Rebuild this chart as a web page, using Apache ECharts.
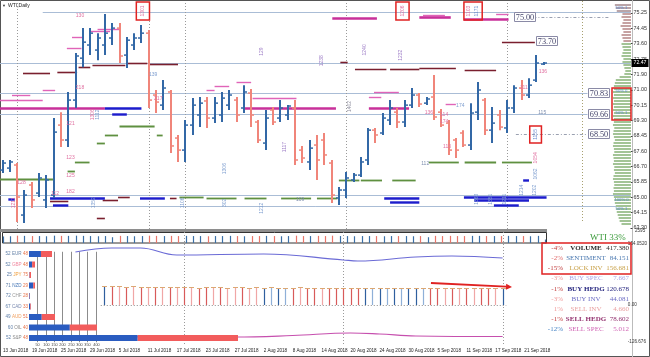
<!DOCTYPE html>
<html><head><meta charset="utf-8"><title>WTI Daily</title>
<script src="https://cdn.jsdelivr.net/npm/echarts@6/dist/echarts.min.js"></script>
<style>html,body{margin:0;padding:0;background:#fff;}#c{width:650px;height:357px;}</style>
</head><body><div id="c"></div>
<script>
// ---------------- DATA ----------------
const dates = ['13 Jun 2018','14 Jun 2018','15 Jun 2018','18 Jun 2018','19 Jun 2018','20 Jun 2018','21 Jun 2018','22 Jun 2018','25 Jun 2018','26 Jun 2018','27 Jun 2018','28 Jun 2018','29 Jun 2018',
'2 Jul 2018','3 Jul 2018','4 Jul 2018','5 Jul 2018','6 Jul 2018','9 Jul 2018','10 Jul 2018','11 Jul 2018','12 Jul 2018','13 Jul 2018','16 Jul 2018','17 Jul 2018','18 Jul 2018','19 Jul 2018','20 Jul 2018','23 Jul 2018','24 Jul 2018','25 Jul 2018','26 Jul 2018','27 Jul 2018','30 Jul 2018','31 Jul 2018',
'1 Aug 2018','2 Aug 2018','3 Aug 2018','6 Aug 2018','7 Aug 2018','8 Aug 2018','9 Aug 2018','10 Aug 2018','13 Aug 2018','14 Aug 2018','15 Aug 2018','16 Aug 2018','17 Aug 2018','20 Aug 2018','21 Aug 2018','22 Aug 2018','23 Aug 2018','24 Aug 2018','27 Aug 2018','28 Aug 2018','29 Aug 2018','30 Aug 2018','31 Aug 2018',
'3 Sep 2018','4 Sep 2018','5 Sep 2018','6 Sep 2018','7 Sep 2018','10 Sep 2018','11 Sep 2018','12 Sep 2018','13 Sep 2018','14 Sep 2018','17 Sep 2018','18 Sep 2018','19 Sep 2018','20 Sep 2018','21 Sep 2018','24 Sep 2018','25 Sep 2018'];
const dateTickIdx = [0,4,8,12,16,20,24,28,32,36,40,44,48,52,56,60,64,68,72];

const opens  = [66.52,66.63,66.80,64.02,65.69,65.24,64.86,65.13,69.02,68.19,70.41,72.74,73.47,73.19,73.47,73.86,74.41,72.91,73.47,73.86,74.13,70.69,70.13,70.86,68.30,67.63,69.02,69.58,70.36,69.41,69.58,70.13,70.41,69.97,70.80,69.19,68.02,69.86,69.41,69.58,69.97,67.63,66.97,67.91,68.19,66.91,64.97,65.41,65.97,66.24,67.08,68.74,68.58,69.30,69.74,69.19,70.13,70.69,70.24,70.58,69.74,69.13,68.19,68.58,67.91,69.74,70.41,68.74,69.58,68.86,69.97,71.08,70.69,71.52,72.41];
const highs  = [67.08,67.08,66.91,65.41,65.86,66.36,66.24,69.41,69.74,70.86,73.02,74.41,74.41,74.13,75.19,74.69,74.69,73.91,74.13,74.58,74.30,70.97,71.52,70.97,68.47,69.30,70.52,70.58,70.58,70.58,70.86,70.97,70.58,71.24,71.02,69.30,69.86,70.02,70.41,70.13,70.41,67.86,68.19,68.47,68.58,67.08,65.58,66.41,66.36,67.24,68.86,68.86,69.69,70.41,69.97,70.41,71.08,70.80,70.58,71.80,69.91,69.30,68.30,68.74,70.24,71.41,70.52,70.02,69.86,70.41,71.24,71.52,71.63,72.91,72.52];
const lows   = [66.36,66.41,63.63,63.58,64.41,65.02,64.41,64.97,67.80,67.80,69.97,72.24,72.91,72.63,72.91,73.47,72.47,72.19,73.19,73.58,69.97,69.69,69.86,67.47,66.97,66.97,68.47,68.91,68.86,69.13,69.19,69.86,69.19,69.69,68.91,68.02,67.63,69.02,69.19,69.30,66.80,66.91,66.52,65.97,66.80,64.69,64.58,64.97,65.86,66.13,66.80,68.02,68.47,69.02,68.86,68.91,69.97,70.02,70.13,69.30,68.91,67.36,67.19,67.80,67.63,69.30,68.47,68.02,68.74,68.58,69.69,70.41,70.52,71.41,72.36];
const closes = [66.91,66.97,65.02,65.13,64.86,66.08,65.97,68.63,68.19,70.41,72.86,73.63,74.13,73.86,74.13,74.41,72.86,73.74,73.86,74.13,70.41,70.30,71.08,67.86,67.63,69.02,70.13,70.24,69.41,70.24,70.52,70.69,69.58,70.86,69.58,68.19,69.41,69.19,69.97,70.08,67.08,67.19,67.74,67.08,67.36,65.13,65.41,66.08,66.24,66.97,68.74,68.47,69.41,69.97,69.19,70.13,70.69,70.19,70.47,69.47,69.02,67.63,67.63,67.91,69.69,70.97,68.74,69.13,68.91,69.97,71.08,70.69,71.24,72.47,72.47];

const priceTickLabels = ['63.30','64.15','65.00','65.85','66.70','67.60','68.45','69.30','70.15','71.00','71.90','72.75','73.60','74.45','75.25'];
const bidPrice = 72.47;

// horizontal indicator levels: [fromBar, toBar, price]
const levelLines = [[5.5,85.9,75.30],[-0.4,85.9,72.47],[-0.4,80.0,70.83],[-0.4,80.0,69.66],[-0.4,85.9,65.12],[-0.4,85.9,64.50]];
const dottedLevels = [[70.2,80.0,68.50],[72.6,83.0,75.00]];
const levelTags = [[69.9,75.00,'75.00'],[72.9,73.70,'73.70'],[80.0,70.83,'70.83'],[80.0,69.66,'69.66'],[80.0,68.50,'68.50']];
const darkRedSegs = [[2.8,6.5,71.91],[7.5,10.2,71.97],[10.4,12.0,72.24],[12.3,16.8,72.36],[17.0,19.8,72.47],[20.0,24.0,72.41],[46.2,47.2,72.55],[48.2,52.5,72.13],[53.0,57.0,72.13],[57.0,62.0,72.19],[63.2,67.5,72.08],[68.3,72.8,73.62],
  [13.7,15.8,64.86],[15.8,17.4,65.02],[22.9,23.8,64.97],[6.5,9.0,64.80],[12.9,14.0,63.86]];
const magentaSegs = [[-0.4,14.0,69.97],[33.1,45.6,69.97],[50.1,55.6,69.97],[45.1,51.2,74.97],[57.0,61.3,75.03],[63.1,69.2,74.92]];
const pinkSegs = [[8.8,10.8,73.30],[9.5,11.0,73.91],[11.9,14.7,74.25],[13.0,16.0,74.36],[5.5,7.2,70.97],[1.3,3.8,70.69],[-0.4,5.5,70.41],[32.0,34.0,71.41],[29.0,31.0,71.19],[27.9,29.0,70.97],[34.2,40.2,70.52],[50.8,54.2,70.86],[50.1,51.8,70.58],[60.6,62.0,70.19],[67.5,69.2,75.19],[57.5,60.5,75.12]];
const greenSegs = [[-0.4,6.9,66.02],[8.9,9.9,66.47],[9.9,11.9,66.97],[12.9,14.0,68.02],[14.0,15.8,68.47],[16.0,20.8,68.97],[21.1,21.9,68.47],[24.2,27.5,65.02],[27.9,32.0,64.97],[33.1,36.1,64.97],[38.1,42.2,64.97],[43.0,45.8,64.97],[46.0,48.8,65.97],[49.0,51.9,65.97],[53.3,56.5,65.97],[58.3,62.4,66.97],[63.2,67.5,66.97],[68.3,72.4,66.97]];
const blueSegs = [[14.0,19.0,69.97],[15.0,17.0,69.63],[6.5,14.0,64.97],[6.9,9.0,64.58],[18.8,22.2,64.97],[0.8,1.7,64.91],[52.2,57.0,64.97],[53.0,57.0,64.75],[63.1,74.4,65.02],[64.5,72.0,64.86],[67.2,70.6,64.58],[71.2,72.0,65.97]];
const markerBars = [2,20,25,47,69];
const profileEdgeBar = 79.3;
const redBoxes = [[18.3,20.1,75.86,74.86],[53.8,55.6,75.86,74.86],[63.1,65.6,75.86,74.86],[72.1,73.7,68.97,68.02]];
const verticalNotes = [[19.2,75.36,'1301','#e070a0'],[54.7,75.36,'1206','#e070a0'],[63.8,75.36,'1103','#e070a0'],[64.9,75.36,'1171','#6f8fd0'],[72.9,68.5,'1155','#6f8fd0'],
  [35.4,73.10,'129','#a080c8'],[43.6,72.60,'1238','#a080c8'],[49.5,73.20,'1240','#a080c8'],[54.5,72.90,'1232','#a080c8'],[47.5,70.05,'1402','#9090a0'],
  [30.4,66.60,'1306','#7f9fd0'],[30.4,64.70,'302','#7f9fd0'],[35.5,64.40,'1212','#7f9fd0'],[38.6,67.80,'1117','#a080c8'],[12.3,69.60,'1306','#e070a0'],[13.0,69.60,'1112','#7f9fd0'],[12.4,64.70,'1352','#7f9fd0'],[24.7,64.70,'1106','#7f9fd0'],[1.5,64.70,'1211','#e070a0'],
  [72.9,67.2,'1054','#e070a0'],[72.9,66.3,'1062','#7f9fd0'],[71.0,65.4,'1214','#7f9fd0'],[72.8,65.4,'1202','#7f9fd0'],[64.9,64.90,'1363','#7f9fd0'],[66.8,64.90,'1351','#7f9fd0'],[68.7,64.90,'1211','#7f9fd0']];
const horizontalNotes = [[10.6,75.10,'130','#e070a0'],[10.6,71.10,'218','#e070a0'],[9.3,69.10,'121','#e070a0'],[9.3,67.20,'123','#e070a0'],[9.3,66.20,'125','#e070a0'],[9.3,65.30,'182','#e070a0'],[2.6,65.80,'128','#e070a0'],[7.2,65.20,'112','#e070a0'],
  [20.6,71.80,'139','#7f9fd0'],[21.3,70.50,'217','#e070a0'],[40.7,64.90,'109','#8090b0'],[60.4,69.60,'114','#e070a0'],[60.4,69.20,'174','#e070a0'],[60.8,67.80,'113','#e070a0'],[57.8,66.90,'112','#8090b0'],[73.8,69.70,'115','#8090b0'],[62.6,70.10,'174','#7f9fd0'],[71.3,71.10,'111','#e070a0'],[73.9,72.00,'136','#e070a0'],[58.3,69.70,'136','#e070a0']];

// volume profile on the right: [price, relative volume %]
const profileRows = [[75.69,85],[75.52,80],[75.36,75],[75.19,45],[75.02,50],[74.86,40],[74.69,45],[74.52,55],[74.36,45],[74.19,40],[74.02,50],[73.86,45],[73.69,40],[73.52,50],
 [73.36,45],[73.19,40],[73.02,45],[72.86,50],[72.69,40],[72.52,45],[72.36,40],[72.19,35],[72.02,30],[71.86,35],
 [71.69,60],[71.52,80],[71.36,85],[71.19,90],[71.02,90],[70.86,95],[70.69,90],[70.52,95],[70.36,90],[70.19,95],[70.02,90],[69.86,95],[69.69,90],[69.52,95],[69.36,90],
 [69.19,90],[69.02,95],[68.86,88],[68.69,92],[68.52,95],[68.36,90],[68.19,85],[68.02,92],[67.86,95],[67.69,90],[67.52,88],[67.36,95],[67.19,92],[67.02,90],[66.86,95],[66.69,88],[66.52,90],[66.36,85],[66.19,92],[66.02,95],[65.86,90],[65.69,88],[65.52,92],[65.36,90],[65.19,95],[65.02,90],[64.86,88],[64.69,85],[64.52,80],[64.36,78],[64.19,75],[64.02,70],[63.86,65],[63.69,60],[63.52,50]];
const profileNotes = [[75.55,'50% 1'],[70.95,'50% 0'],[69.70,'50% 1'],[64.85,'100% 0'],[64.35,'50% 1']];

// volume strip (tick volume per bar)
const stripMax = 2595;
const tickVolumes = [1700,1750,1900,1850,1800,1800,1750,1900,1850,1850,1900,1850,1800,1750,1800,1500,1850,1800,1750,1800,1900,1850,1800,1850,1800,1850,1800,1800,1750,1800,1800,1850,1800,1750,1800,1800,1850,1800,1750,1800,1900,1800,1800,1850,1800,1900,1800,1800,1750,1800,1800,1800,1750,1800,1800,1800,1750,1800,1500,1850,1800,1850,1800,1800,1850,1850,1800,1800,1800,1850,1800,1800,1750,1850,900];

// lower panel
const sentimentLine = [[10,93],[15,97],[19,97],[24,90],[36,91],[47,85],[49,84],[57,88],[62,89],[69,87]];
const lockLine = [[10,9],[24,8],[32,8],[40,9.5],[48,12],[52,11],[57,9],[69,8.5]];
const histStart = 14;
const histValues = [59,59,59,58,59,58,58,58,58,58,58,58,58,57,58,58,58,57,58,58,57,58,57,58,57,57,57,58,57,57,57,57,57,57,57,57,57,57,57,57,57,57,57,57,57,57,57,57,57,57,57,57,57,57,57,57];
const histSide =   [1,-1,-2,-1,-2,-1,-2,-1,-2,-1,-2,-1,-2,-1,-1,-2,-1,-2,-2,-1,-2,-2,1,2,1,2,-1,-2,-1,-1,-2,-1,-1,-1,-1,-1,1,2,1,2,1,2,1,1,2,-1,-1,-2,-1,-2,-1,-2,-1,-1,-2,1];
const histBase = 40;
const trendArrow = [[59.1,62,70.3,58]];
const lowerAxisLabels = {101:'154.0520',40:'0.00',3:'-126.676'};

const currencies = ['EUR','GBP','JPY','NZD','CHF','CAD','AUD','OIL','S&P'];
const buyPct  = [52,52,25,71,72,67,49,60,52];
const sellPct = [48,48,75,29,28,33,51,40,48];
const currencyVolume = [138,36,12,36,6,12,156,408,1254];
const scaleMarks = [50,100,150,200,250,300,350,400];

const tablePct = ['-4%','-2%','-15%','-3%','-1%','-3%','1%','-1%','-12%'];
const tableNames = ['VOLUME','SENTIMENT','LOCK INV','BUY SPEC','BUY HEDG','BUY INV','SELL INV','SELL HEDG','SELL SPEC'];
const tableValues = ['417.380','84.151','156.681','7.667','120.678','44.081','4.660','78.602','5.012'];
const instrumentTitle = 'WTI,Daily';
const instrumentShare = 'WTI 33%';

// ---------------- STYLE ----------------
const UP = '#3368a6', DOWN = '#f0857a';
const SANS = 'Liberation Sans', SERIF = 'Liberation Serif';
const X_MAX = 85.88;
const tableNameColors = ['#2a2a2a','#4a78b0','#c9a24a','#a9a4e6','#23237e','#6d6dc4','#eaa2a2','#92306e','#d064b4'];
const tablePctColors = ['#c03a3a','#e06a6a','#c03a3a','#f09a9a','#c03a3a','#f09a9a','#f09a9a','#c03a3a','#4a86c6'];
const tableBold = [true,false,false,false,true,false,false,true,false];
const currencyColors = ['#6a86aa','#f08aa0','#f0a040','#4a7ab8','#9a9a9a','#7a8ab0','#f0a060','#8a8a8a','#8a8a8a'];
const sideColors = {'1':'#2f5f9e','2':'#8fb0d8','-1':'#d85a5a','-2':'#f0a6a6'};

// ---------------- HELPERS ----------------
function segSeries(data, color, width, dash, z){
  return {type:'custom', xAxisIndex:0, yAxisIndex:0, z:z, silent:true, clip:false,
    data: data,
    renderItem: function(p, api){
      const a = api.coord([api.value(0), api.value(2)]);
      const b = api.coord([api.value(1), api.value(2)]);
      const y = Math.round(a[1]) + 0.5;
      return {type:'line', shape:{x1:a[0], y1:y, x2:b[0], y2:y}, style:{stroke:color, lineWidth:width, lineDash:dash||null}};
    }};
}
function txt(x, y, text, color, size, family, align, vAlign, weight){
  return {type:'text', x:x, y:y, silent:true, style:{text:text, fill:color, fontSize:size, fontFamily:family||SANS, align:align||'left', verticalAlign:vAlign||'middle', fontWeight:weight||'normal'}};
}

const ohlc = dates.map((d,i)=>[i, opens[i], highs[i], lows[i], closes[i]]);

const option = {
  animation:false,
  backgroundColor:'#ffffff',
  grid:[
    {left:2.5, right:18, top:13, height:215},
    {left:2.5, right:18, top:244, height:101},
    {left:2.5, right:18, top:233, height:10},
    {left:612, right:19, top:13, height:215},
    {left:29, right:18, top:248.75, height:94.5}
  ],
  xAxis:[
    {gridIndex:0, type:'value', min:0, max:X_MAX, show:false},
    {gridIndex:1, type:'value', min:0, max:X_MAX, interval:1, axisLine:{show:false}, axisTick:{show:false}, splitLine:{show:false},
      axisLabel:{margin:3, fontSize:4.6, color:'#222', fontFamily:SANS, align:'left',
        formatter:function(v){ return dateTickIdx.indexOf(v) >= 0 ? dates[v] : ''; }}},
    {gridIndex:2, type:'value', min:0, max:X_MAX, show:false},
    {gridIndex:3, type:'value', min:0, max:100, inverse:true, show:false},
    {gridIndex:4, type:'value', min:0, max:3618, show:false}
  ],
  yAxis:[
    {gridIndex:0, type:'value', min:63.30, max:75.25, show:false},
    {gridIndex:0, type:'value', min:0, max:14, interval:1, position:'right', axisLine:{show:false},
      axisTick:{show:true, length:2, lineStyle:{color:'#444'}}, splitLine:{show:false},
      axisLabel:{margin:3, fontSize:5.4, color:'#333', fontFamily:SANS, formatter:function(v){ return priceTickLabels[v] || ''; }}},
    {gridIndex:1, type:'value', min:0, max:101, show:false},
    {gridIndex:1, type:'value', min:0, max:101, interval:1, position:'right', axisLine:{show:false}, axisTick:{show:false}, splitLine:{show:false},
      axisLabel:{margin:3, fontSize:4.6, color:'#333', fontFamily:SANS, formatter:function(v){ return lowerAxisLabels[v] || ''; }}},
    {gridIndex:2, type:'value', min:0, max:stripMax, position:'right', axisLine:{show:false}, axisTick:{show:false}, splitLine:{show:false},
      axisLabel:{margin:3, fontSize:4.6, color:'#333', fontFamily:SANS, verticalAlign:'bottom', formatter:function(v){ return v === stripMax ? String(stripMax) : ''; }}},
    {gridIndex:3, type:'value', min:63.30, max:75.25, show:false},
    {gridIndex:4, type:'category', data:currencies, inverse:true, axisLine:{show:false}, axisTick:{show:false}, splitLine:{show:false},
      axisLabel:{margin:1, fontSize:4.6, fontFamily:SANS,
        formatter:function(v, idx){ return '{b|' + buyPct[idx] + '} {c' + idx + '|' + v + '} {s|' + sellPct[idx] + '}'; },
        rich:(function(){ const r = {b:{color:'#5f7fa8', fontSize:4.6, fontFamily:SANS}, s:{color:'#e8744a', fontSize:4.6, fontFamily:SANS}};
          currencyColors.forEach((c,k)=>{ r['c'+k] = {color:c, fontSize:4.6, fontFamily:SANS}; }); return r; })()}}
  ],
  series:[
    segSeries(levelLines, '#aabdd6', 1, null, 1),
    segSeries(dottedLevels, '#9aa0b0', 1, [3,2,1,2], 1),
    segSeries(greenSegs, '#5f9040', 1.8, null, 3),
    segSeries(darkRedSegs, '#7a1f2e', 1.6, null, 3),
    segSeries(pinkSegs, '#e064b8', 1.4, null, 3),
    segSeries(magentaSegs, '#c8309a', 2.6, null, 3),
    segSeries(blueSegs, '#1c1ccc', 2.4, null, 3),
    {type:'custom', xAxisIndex:0, yAxisIndex:0, z:2, silent:true, clip:false, data:markerBars.map(b=>[b]),
      renderItem:function(p, api){ const x = Math.round(api.coord([api.value(0), 70])[0]) + 0.5; const cs = p.coordSys;
        return {type:'line', shape:{x1:x, y1:cs.y-10, x2:x, y2:cs.y+cs.height+1}, style:{stroke:'#9a9a9a', lineWidth:1, lineDash:[1,2]}}; }},
    {type:'custom', xAxisIndex:0, yAxisIndex:0, z:2, silent:true, clip:false, data:[[profileEdgeBar]],
      renderItem:function(p, api){ const x = Math.round(api.coord([api.value(0), 70])[0]) + 0.5; const cs = p.coordSys;
        return {type:'line', shape:{x1:x, y1:cs.y-12, x2:x, y2:cs.y+cs.height-5}, style:{stroke:'#a8a070', lineWidth:1, lineDash:[1,2]}}; }},
    {type:'custom', xAxisIndex:0, yAxisIndex:0, z:5, silent:true, clip:false, data:ohlc,
      renderItem:function(p, api){
        const i = api.value(0), o = api.value(1), h = api.value(2), l = api.value(3), c = api.value(4);
        const col = c >= o ? UP : DOWN;
        const x = Math.round(api.coord([i,h])[0]);
        const yH = api.coord([i,h])[1], yL = api.coord([i,l])[1], yO = api.coord([i,o])[1], yC = api.coord([i,c])[1];
        return {type:'group', children:[
          {type:'line', shape:{x1:x, y1:yH, x2:x, y2:yL}, style:{stroke:col, lineWidth:2}},
          {type:'line', shape:{x1:x-3, y1:yO, x2:x, y2:yO}, style:{stroke:col, lineWidth:1.5}},
          {type:'line', shape:{x1:x, y1:yC, x2:x+3, y2:yC}, style:{stroke:col, lineWidth:1.5}}]};
      }},
    {type:'custom', xAxisIndex:0, yAxisIndex:0, z:7, silent:true, clip:false, data:levelTags.map(t=>[t[0], t[1]]),
      renderItem:function(p, api){ const a = api.coord([api.value(0), api.value(1)]); const x = Math.round(a[0]) + 0.5, y = Math.round(a[1]);
        return {type:'group', children:[
          {type:'rect', shape:{x:x, y:y-4.5, width:21, height:9}, style:{fill:'#ffffff', stroke:'#8a8aa6', lineWidth:1}},
          txt(x+10.5, y+0.5, levelTags[p.dataIndex][2], '#45456a', 8.2, SERIF, 'center', 'middle')]}; }},
    {type:'custom', xAxisIndex:0, yAxisIndex:0, z:8, silent:true, clip:false, data:redBoxes,
      renderItem:function(p, api){ const a = api.coord([api.value(0), api.value(2)]), b = api.coord([api.value(1), api.value(3)]);
        return {type:'rect', shape:{x:a[0], y:a[1], width:b[0]-a[0], height:b[1]-a[1]}, style:{fill:null, stroke:'#e02222', lineWidth:1.5}}; }},
    {type:'custom', xAxisIndex:0, yAxisIndex:0, z:6, silent:true, clip:false, data:verticalNotes.map(n=>[n[0], n[1]]),
      renderItem:function(p, api){ const a = api.coord([api.value(0), api.value(1)]); const n = verticalNotes[p.dataIndex];
        const el = txt(a[0], a[1], n[2], n[3], 5, SANS, 'center', 'middle'); el.rotation = Math.PI/2; return el; }},
    {type:'custom', xAxisIndex:0, yAxisIndex:0, z:6, silent:true, clip:false, data:horizontalNotes.map(n=>[n[0], n[1]]),
      renderItem:function(p, api){ const a = api.coord([api.value(0), api.value(1)]); const n = horizontalNotes[p.dataIndex];
        return txt(a[0], a[1], n[2], n[3], 5, SANS, 'center', 'middle'); }},
    {type:'custom', xAxisIndex:0, yAxisIndex:0, z:9, silent:true, clip:false, data:[[74, bidPrice]],
      renderItem:function(p, api){ const a = api.coord([api.value(0), api.value(1)]); const cs = p.coordSys; const x = cs.x + cs.width + 1;
        return {type:'group', children:[
          {type:'rect', shape:{x:x, y:Math.round(a[1])-4, width:17, height:8}, style:{fill:'#000'}},
          txt(x+8.5, Math.round(a[1]), bidPrice.toFixed(2), '#fff', 5.2, SANS, 'center', 'middle')]}; }},
    {type:'custom', xAxisIndex:3, yAxisIndex:5, z:4, silent:true, clip:false, data:profileRows,
      renderItem:function(p, api){ const a = api.coord([api.value(1), api.value(0)]); const b = api.coord([0, api.value(0)]);
        const pr = api.value(0); const col = pr > 73.55 ? (pr > 75.3 ? '#b9a4a8' : '#c6a2a2') : '#a3c496';
        return {type:'rect', shape:{x:a[0], y:Math.round(a[1])-1, width:b[0]-a[0], height:2}, style:{fill:col}}; }},
    {type:'custom', xAxisIndex:3, yAxisIndex:5, z:6, silent:true, clip:false, data:profileNotes.map(n=>[n[0]]),
      renderItem:function(p, api){ const a = api.coord([50, api.value(0)]);
        return txt(a[0], a[1], profileNotes[p.dataIndex][1], '#5a8ad0', 4.2, SANS, 'center', 'middle'); }},
    {type:'custom', xAxisIndex:3, yAxisIndex:5, z:8, silent:true, clip:false, data:[[71.08,69.30]],
      renderItem:function(p, api){ const a = api.coord([100, api.value(0)]), b = api.coord([0, api.value(1)]);
        return {type:'rect', shape:{x:a[0], y:a[1], width:b[0]-a[0], height:b[1]-a[1]}, style:{fill:null, stroke:'#e02222', lineWidth:1.5}}; }},
    {type:'custom', xAxisIndex:2, yAxisIndex:4, z:4, silent:true, clip:false, data:tickVolumes.map((v,i)=>[i, v, closes[i] >= opens[i] ? 1 : -1]),
      renderItem:function(p, api){ const a = api.coord([api.value(0), api.value(1)]), b = api.coord([api.value(0), 0]); const x = Math.round(a[0]) + 0.5;
        return {type:'line', shape:{x1:x, y1:a[1], x2:x, y2:b[1]}, style:{stroke: api.value(2) > 0 ? '#3b6fa6' : '#e8766a', lineWidth:1.2}}; }},
    {type:'custom', xAxisIndex:1, yAxisIndex:2, z:2, silent:true, clip:false, data:[[histStart-0.5, histStart+histValues.length-0.5, histBase]],
      renderItem:function(p, api){ const a = api.coord([api.value(0), api.value(2)]), b = api.coord([api.value(1), api.value(2)]); const y = Math.round(a[1]) + 0.5;
        return {type:'line', shape:{x1:a[0], y1:y, x2:b[0], y2:y}, style:{stroke:'#8a8a8a', lineWidth:1, lineDash:[1,2]}}; }},
    {type:'custom', xAxisIndex:1, yAxisIndex:2, z:4, silent:true, clip:false, data:histValues.map((v,k)=>[histStart+k, v, histSide[k]]),
      renderItem:function(p, api){ const a = api.coord([api.value(0), api.value(1)]), b = api.coord([api.value(0), histBase]); const x = Math.round(a[0]) + 0.5;
        return {type:'group', children:[
          {type:'line', shape:{x1:x, y1:a[1], x2:x, y2:b[1]}, style:{stroke:sideColors[String(histSide[p.dataIndex])], lineWidth:1.2}},
          {type:'line', shape:{x1:x-2.5, y1:Math.round(a[1])+0.5, x2:x+2.5, y2:Math.round(a[1])+0.5}, style:{stroke:'#dca874', lineWidth:1}}]}; }},
    {type:'custom', xAxisIndex:1, yAxisIndex:2, z:2, silent:true, clip:false, data:markerBars.slice(2).map(b=>[b]),
      renderItem:function(p, api){ const x = Math.round(api.coord([api.value(0), 50])[0]) + 0.5; const cs = p.coordSys;
        return {type:'line', shape:{x1:x, y1:cs.y-12, x2:x, y2:cs.y+cs.height}, style:{stroke:'#9a9a9a', lineWidth:1, lineDash:[1,2]}}; }},
    {type:'line', xAxisIndex:1, yAxisIndex:2, z:5, data:sentimentLine, smooth:0.4, symbol:'none', lineStyle:{color:'#6b6bd6', width:1.2}, silent:true},
    {type:'line', xAxisIndex:1, yAxisIndex:2, z:3, data:lockLine, smooth:0.4, symbol:'none', lineStyle:{color:'#c64fae', width:1.2}, silent:true},
    {type:'custom', xAxisIndex:1, yAxisIndex:2, z:9, silent:true, clip:false, data:trendArrow,
      renderItem:function(p, api){ const a = api.coord([api.value(0), api.value(1)]), b = api.coord([api.value(2), api.value(3)]);
        const ang = Math.atan2(b[1]-a[1], b[0]-a[0]); const L = 6, W = 3;
        const p1 = [b[0] - L*Math.cos(ang) + W*Math.sin(ang), b[1] - L*Math.sin(ang) - W*Math.cos(ang)];
        const p2 = [b[0] - L*Math.cos(ang) - W*Math.sin(ang), b[1] - L*Math.sin(ang) + W*Math.cos(ang)];
        return {type:'group', children:[
          {type:'line', shape:{x1:a[0], y1:a[1], x2:b[0]-L*Math.cos(ang), y2:b[1]-L*Math.sin(ang)}, style:{stroke:'#e02222', lineWidth:1.8}},
          {type:'polygon', shape:{points:[b, p1, p2]}, style:{fill:'#e02222'}}]}; }},
    {type:'custom', xAxisIndex:4, yAxisIndex:6, z:1, silent:true, clip:false, data:scaleMarks.map(v=>[v, 0]),
      renderItem:function(p, api){ const x = Math.round(api.coord([api.value(0), 0])[0]) + 0.5; const cs = p.coordSys;
        return {type:'group', children:[
          {type:'line', shape:{x1:x, y1:cs.y+3, x2:x, y2:cs.y+cs.height-1}, style:{stroke:'#8c8c8c', lineWidth:1}},
          txt(x, cs.y+cs.height+1.5, String(scaleMarks[p.dataIndex]), '#444', 3.8, SANS, 'center', 'middle')]}; }},
    {type:'bar', xAxisIndex:4, yAxisIndex:6, stack:'cur', z:6, barWidth:6, silent:true, itemStyle:{color:'#2a5cc0'},
      data:currencyVolume.map((v,k)=>v*buyPct[k]/100)},
    {type:'bar', xAxisIndex:4, yAxisIndex:6, stack:'cur', z:6, barWidth:6, silent:true, itemStyle:{color:'#f25c5c'},
      data:currencyVolume.map((v,k)=>v*sellPct[k]/100)}
  ],
  graphic:[]
};

const g = option.graphic;
g.push({type:'rect', silent:true, z:0, shape:{x:0.5, y:0.5, width:649, height:356}, style:{fill:null, stroke:'#555', lineWidth:1}});
g.push({type:'rect', silent:true, z:0, shape:{x:0, y:229, width:547, height:3}, style:{fill:'#8e8e8e'}});
g.push({type:'rect', silent:true, z:0, shape:{x:2.5, y:232.5, width:544, height:10.5}, style:{fill:null, stroke:'#333', lineWidth:1}});
g.push({type:'line', silent:true, z:0, shape:{x1:632.5, y1:0, x2:632.5, y2:357}, style:{stroke:'#bbbbbb', lineWidth:1}});
g.push({type:'text', silent:true, x:2, y:5.5, style:{text:'\u25BC', fill:'#333', fontSize:4, fontFamily:SANS, verticalAlign:'middle'}});
g.push({type:'text', silent:true, x:8, y:5.5, style:{text:instrumentTitle, fill:'#222', fontSize:5, fontFamily:SANS, verticalAlign:'middle'}});
g.push({type:'text', silent:true, x:590, y:237.5, style:{text:instrumentShare, fill:'#3a9a3a', fontSize:9, fontFamily:SERIF, verticalAlign:'middle'}});
tableNames.forEach((n,k)=>{
  const y = 248 + k*10.2;
  g.push({type:'text', silent:true, x:563, y:y, style:{text:tablePct[k], fill:tablePctColors[k], fontSize:7, fontFamily:SERIF, align:'right', verticalAlign:'middle'}});
  g.push({type:'text', silent:true, x:586, y:y, style:{text:n, fill:tableNameColors[k], fontSize:7, fontFamily:SERIF, align:'center', verticalAlign:'middle', fontWeight:tableBold[k]?'bold':'normal'}});
  g.push({type:'text', silent:true, x:629, y:y, style:{text:tableValues[k], fill:tableNameColors[k], fontSize:7, fontFamily:SERIF, align:'right', verticalAlign:'middle'}});
});
g.push({type:'rect', silent:true, z:10, shape:{x:542, y:243, width:89, height:31}, style:{fill:null, stroke:'#e02222', lineWidth:1.5}});

const chart = echarts.init(document.getElementById('c'), null, {renderer:'canvas', width:650, height:357});
chart.setOption(option);
</script></body></html>
